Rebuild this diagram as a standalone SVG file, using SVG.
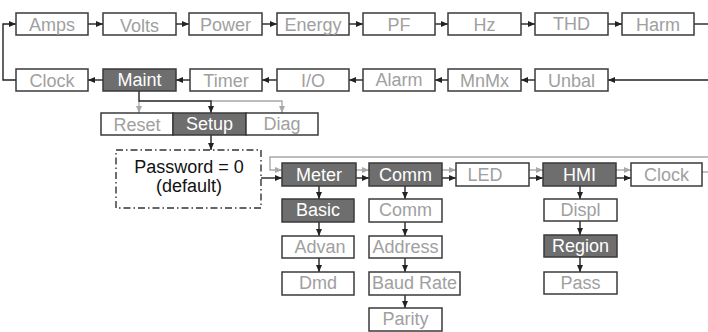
<svg xmlns="http://www.w3.org/2000/svg" width="708" height="332" viewBox="0 0 708 332">
<defs>
<marker id="ad" markerUnits="userSpaceOnUse" markerWidth="7" markerHeight="6" refX="7" refY="3" orient="auto"><path d="M0,0 L7,3 L0,6 z" fill="#222"/></marker>
<marker id="ag" markerUnits="userSpaceOnUse" markerWidth="7" markerHeight="6" refX="7" refY="3" orient="auto"><path d="M0,0 L7,3 L0,6 z" fill="#a8a8a8"/></marker>
<style>
.b{fill:#fff;stroke:#3a3a3a;stroke-width:1.5}
.d{fill:#6e6e6e;stroke:#3a3a3a;stroke-width:1.5}
text{font-family:"Liberation Sans",Arial,sans-serif;font-size:18px;text-anchor:middle}
.lt{fill:#a0a0a0}
.wt{fill:#fff}
.bt{fill:#111}
.cd{fill:none;stroke:#222;stroke-width:1.4;marker-end:url(#ad)}
.cg{fill:none;stroke:#a8a8a8;stroke-width:1.4;marker-end:url(#ag)}
.ld{fill:none;stroke:#222;stroke-width:1.4}
.lg{fill:none;stroke:#a8a8a8;stroke-width:1.4}
</style>
</defs>
<g id="connectors">
<path class="cd" d="M16,80 H3 V24 H16"/>
<path class="cd" d="M88,24 H103"/>
<path class="cd" d="M176,24 H189"/>
<path class="cd" d="M262,24 H277"/>
<path class="cd" d="M349,24 H363"/>
<path class="cd" d="M435,24 H448"/>
<path class="cd" d="M521,24 H535"/>
<path class="cd" d="M608,24 H622"/>
<path class="ld" d="M694,24 H708"/>
<path class="cd" d="M708,80 H608"/>
<path class="cd" d="M535,80 H521"/>
<path class="cd" d="M448,80 H435"/>
<path class="cd" d="M363,80 H349"/>
<path class="cd" d="M277,80 H262"/>
<path class="cd" d="M190,80 H176"/>
<path class="cd" d="M103,80 H88"/>
<path class="cg" d="M139,101 V113"/>
<path class="cg" d="M211,101 H282 V113"/>
<path class="cd" d="M139,91 V101 H211 V113"/>
<path class="cd" d="M211,135 V150"/>
<path class="cd" d="M261,178 H282"/>
<path class="cg" d="M708,157 H270 V170 H282"/>
<path class="cg" d="M356,170 H369"/>
<path class="cd" d="M356,178 H369"/>
<path class="cg" d="M442,170 H456"/>
<path class="cd" d="M442,178 H456"/>
<path class="cg" d="M529,170 H543"/>
<path class="cd" d="M529,178 H543"/>
<path class="cg" d="M616,170 H631"/>
<path class="cd" d="M616,178 H631"/>
<path class="lg" d="M702,172 H708"/>
<path class="cd" d="M319,186 V199"/>
<path class="cd" d="M319,222 V236"/>
<path class="cd" d="M319,258 V272"/>
<path class="cd" d="M405,186 V199"/>
<path class="cd" d="M405,222 V236"/>
<path class="cd" d="M405,258 V272"/>
<path class="cd" d="M405,295 V308"/>
<path class="cd" d="M580,186 V199"/>
<path class="cd" d="M580,221 V235"/>
<path class="cd" d="M580,257 V272"/>
</g>
<g id="amps"><rect class="b" x="16" y="13" width="72" height="22"/><text class="lt" x="52" y="30.5">Amps</text></g>
<g id="volts"><rect class="b" x="103" y="13" width="73" height="22"/><text class="lt" x="139.5" y="31.5">Volts</text></g>
<g id="power"><rect class="b" x="189" y="13" width="73" height="22"/><text class="lt" x="225.5" y="30.5">Power</text></g>
<g id="energy"><rect class="b" x="277" y="13" width="72" height="22"/><text class="lt" x="313" y="30.5">Energy</text></g>
<g id="pf"><rect class="b" x="363" y="13" width="72" height="22"/><text class="lt" x="399" y="31">PF</text></g>
<g id="hz"><rect class="b" x="448" y="13" width="73" height="22"/><text class="lt" x="484.5" y="31">Hz</text></g>
<g id="thd"><rect class="b" x="535" y="13" width="73" height="22"/><text class="lt" x="571.5" y="30">THD</text></g>
<g id="harm"><rect class="b" x="622" y="13" width="72" height="22"/><text class="lt" x="658" y="30.5">Harm</text></g>
<g id="clock1"><rect class="b" x="16" y="69" width="72" height="22"/><text class="lt" x="52" y="86.5">Clock</text></g>
<g id="maint"><rect class="d" x="103" y="69" width="73" height="22"/><text class="wt" x="139.5" y="85.5">Maint</text></g>
<g id="timer"><rect class="b" x="190" y="69" width="72" height="22"/><text class="lt" x="226" y="86.5">Timer</text></g>
<g id="io"><rect class="b" x="277" y="69" width="72" height="22"/><text class="lt" x="313" y="86.5">I/O</text></g>
<g id="alarm"><rect class="b" x="363" y="69" width="72" height="22"/><text class="lt" x="399" y="86">Alarm</text></g>
<g id="mnmx"><rect class="b" x="448" y="69" width="73" height="22"/><text class="lt" x="484.5" y="86.5">MnMx</text></g>
<g id="unbal"><rect class="b" x="535" y="69" width="73" height="22"/><text class="lt" x="571.5" y="86.5">Unbal</text></g>
<g id="reset"><rect class="b" x="101" y="113" width="72" height="22"/><text class="lt" x="137" y="130.5">Reset</text></g>
<g id="setup"><rect class="d" x="173" y="113" width="73" height="22"/><text class="wt" x="209.5" y="130">Setup</text></g>
<g id="diag"><rect class="b" x="246" y="113" width="72" height="22"/><text class="lt" x="282" y="130">Diag</text></g>
<g id="password"><rect x="116" y="150" width="145" height="58" fill="#fff" stroke="#333" stroke-width="1.4" stroke-dasharray="7,3,1.5,3"/><text class="bt" x="189" y="173">Password = 0</text><text class="bt" x="189" y="192">(default)</text></g>
<g id="meter"><rect class="d" x="282" y="163" width="74" height="23"/><text class="wt" x="319" y="181">Meter</text></g>
<g id="comm"><rect class="d" x="369" y="163" width="73" height="23"/><text class="wt" x="405.5" y="180.5">Comm</text></g>
<g id="led"><rect class="b" x="456" y="163" width="73" height="23"/><text class="lt" x="485" y="180.5">LED</text></g>
<g id="hmi"><rect class="d" x="543" y="163" width="73" height="23"/><text class="wt" x="579.5" y="180.5">HMI</text></g>
<g id="clock2"><rect class="b" x="631" y="163" width="71" height="23"/><text class="lt" x="666.5" y="180.5">Clock</text></g>
<g id="basic"><rect class="d" x="282" y="199" width="72" height="23"/><text class="wt" x="318" y="216">Basic</text></g>
<g id="advan"><rect class="b" x="282" y="236" width="72" height="22"/><text class="lt" x="320" y="253">Advan</text></g>
<g id="dmd"><rect class="b" x="282" y="272" width="72" height="23"/><text class="lt" x="318" y="289">Dmd</text></g>
<g id="comm2"><rect class="b" x="369" y="199" width="73" height="23"/><text class="lt" x="405.5" y="216">Comm</text></g>
<g id="address"><rect class="b" x="369" y="236" width="73" height="22"/><text class="lt" x="405.5" y="253">Address</text></g>
<g id="baudrate"><rect class="b" x="369" y="272" width="91" height="23"/><text class="lt" x="414.5" y="289">Baud Rate</text></g>
<g id="parity"><rect class="b" x="369" y="308" width="73" height="23"/><text class="lt" x="405.5" y="325">Parity</text></g>
<g id="displ"><rect class="b" x="544" y="199" width="73" height="22"/><text class="lt" x="580.5" y="216">Displ</text></g>
<g id="region"><rect class="d" x="544" y="235" width="73" height="22"/><text class="wt" x="580.5" y="252">Region</text></g>
<g id="pass"><rect class="b" x="544" y="272" width="73" height="22"/><text class="lt" x="580.5" y="289">Pass</text></g>
</svg>
